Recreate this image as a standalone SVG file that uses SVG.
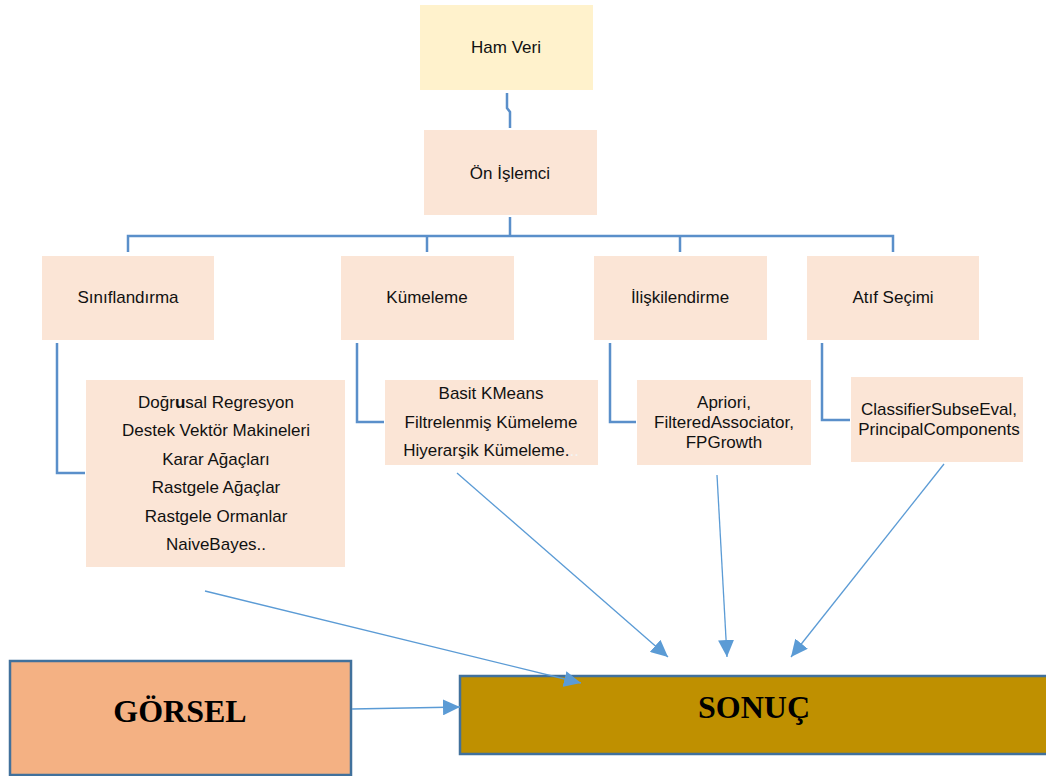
<svg xmlns="http://www.w3.org/2000/svg" width="1046" height="776" viewBox="0 0 1046 776">
<defs>
<style>
.t{font-family:"Liberation Sans",Arial,sans-serif;font-size:17px;fill:#111;text-anchor:middle}
.b{font-family:"Liberation Serif","Times New Roman",serif;font-size:32px;font-weight:bold;fill:#000;text-anchor:middle}
.pale{fill:#FBE5D6}
.tree{fill:none;stroke:#5A8FCA;stroke-width:2.5}
.arr{fill:none;stroke:#5B9BD5;stroke-width:1.3;marker-end:url(#ah)}
.big{stroke:#41719C;stroke-width:2.5}
</style>
<marker id="ah" markerUnits="userSpaceOnUse" markerWidth="18" markerHeight="16" refX="17" refY="8" orient="auto">
<path d="M0,0 L17,8 L0,16 Z" fill="#5B9BD5"/>
</marker>
</defs>
<rect width="1046" height="776" fill="#fff"/>
<g id="ham-veri">
<rect x="420" y="5" width="173" height="85" fill="#FFF2CC"/>
<text class="t" x="506" y="53">Ham Veri</text>
</g>
<g id="on-islemci">
<rect class="pale" x="424" y="130" width="173" height="85"/>
<text class="t" x="510" y="179">Ön İşlemci</text>
</g>
<g id="siniflandirma">
<rect class="pale" x="42" y="256" width="172" height="84"/>
<text class="t" x="128" y="303">Sınıflandırma</text>
</g>
<g id="kumeleme">
<rect class="pale" x="341" y="256" width="173" height="84"/>
<text class="t" x="427" y="303">Kümeleme</text>
</g>
<g id="iliskilendirme">
<rect class="pale" x="594" y="256" width="173" height="84"/>
<text class="t" x="680" y="303">İlişkilendirme</text>
</g>
<g id="atif-secimi">
<rect class="pale" x="807" y="256" width="172" height="84"/>
<text class="t" x="893" y="303">Atıf Seçimi</text>
</g>
<g id="siniflandirma-list">
<rect class="pale" x="86" y="380" width="259" height="187"/>
<text class="t" x="216" y="408">Doğr<tspan font-weight="bold">u</tspan>sal Regresyon</text>
<text class="t" x="216" y="436">Destek Vektör Makineleri</text>
<text class="t" x="216" y="465">Karar Ağaçları</text>
<text class="t" x="216" y="493">Rastgele Ağaçlar</text>
<text class="t" x="216" y="522">Rastgele Ormanlar</text>
<text class="t" x="216" y="550">NaiveBayes..</text>
</g>
<g id="kumeleme-list">
<rect class="pale" x="385" y="380" width="213" height="85"/>
<text class="t" x="491" y="399">Basit KMeans</text>
<text class="t" x="491" y="428">Filtrelenmiş Kümeleme</text>
<text class="t" x="491" y="456">Hiyerarşik Kümeleme.<tspan fill="#f4f4f4">..</tspan></text>
</g>
<g id="iliskilendirme-list">
<rect class="pale" x="637" y="380" width="174" height="85"/>
<text class="t" x="724" y="408">Apriori,</text>
<text class="t" x="724" y="428">FilteredAssociator,</text>
<text class="t" x="724" y="448">FPGrowth</text>
</g>
<g id="atif-list">
<rect class="pale" x="851" y="377" width="172" height="85"/>
<text class="t" x="939" y="415">ClassifierSubseEval,</text>
<text class="t" x="939" y="435">PrincipalComponents</text>
</g>
<g id="gorsel">
<rect class="big" x="10" y="661" width="341" height="114" fill="#F4B183"/>
<text class="b" x="180" y="722">GÖRSEL</text>
</g>
<g id="sonuc">
<rect class="big" x="460" y="676" width="600" height="78" fill="#BF9000"/>
<text class="b" x="754" y="718">SONUÇ</text>
</g>
<g id="connectors">
<path class="tree" d="M507,93 V108 L510,112 V128"/>
<path class="tree" d="M510,217 V236"/>
<path class="tree" d="M128,252 V236 H893 V252"/>
<path class="tree" d="M427,236 V252"/>
<path class="tree" d="M680,236 V252"/>
<path class="tree" d="M57,343 V473 H85"/>
<path class="tree" d="M357,343 V422 H384"/>
<path class="tree" d="M610,343 V422 H636"/>
<path class="tree" d="M822,343 V420 H850"/>
<line class="arr" x1="205" y1="591" x2="581" y2="683"/>
<line class="arr" x1="457" y1="473" x2="668" y2="657"/>
<line class="arr" x1="717" y1="475" x2="727" y2="657"/>
<line class="arr" x1="944" y1="464" x2="791" y2="657"/>
<line class="arr" x1="352" y1="709" x2="460" y2="707"/>
</g>
</svg>
